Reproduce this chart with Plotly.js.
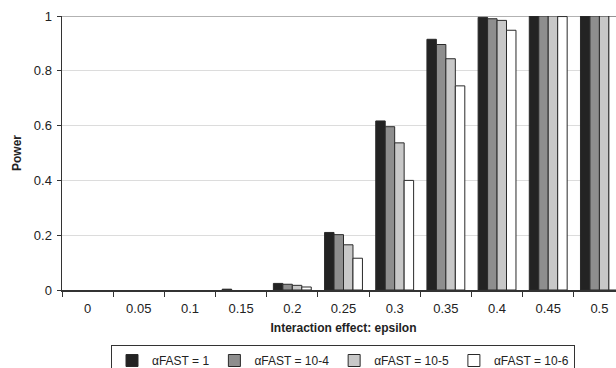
<!DOCTYPE html>
<html>
<head>
<meta charset="utf-8">
<script src="https://cdn.plot.ly/plotly-3.0.1.min.js"></script>
<style>html,body{margin:0;padding:0;background:#fff;overflow:hidden;width:616px;height:368px;}#chart{width:625px;height:392px;}</style>
</head>
<body>
<div id="chart"></div>
<script>
const categories = ["0","0.05","0.1","0.15","0.2","0.25","0.3","0.35","0.4","0.45","0.5"];
const seriesNames = ["\u03b1FAST = 1","\u03b1FAST = 10-4","\u03b1FAST = 10-5","\u03b1FAST = 10-6"];
const powerA1   = [0, 0, 0, 0.003, 0.024, 0.210, 0.617, 0.915, 0.995, 1.000, 1.000];
const powerA1e4 = [0, 0, 0, 0.000, 0.021, 0.202, 0.596, 0.896, 0.990, 1.000, 1.000];
const powerA1e5 = [0, 0, 0, 0.000, 0.017, 0.165, 0.537, 0.844, 0.984, 1.000, 1.000];
const powerA1e6 = [0, 0, 0, 0.000, 0.011, 0.116, 0.400, 0.745, 0.948, 0.998, 1.000];
const yTicks = [0, 0.2, 0.4, 0.6, 0.8, 1];
const yTickText = ["0","0.2","0.4","0.6","0.8","1"];

const colors = ["#232323", "#8e8e8e", "#c8c8c8", "#ffffff"];
const allVals = [powerA1, powerA1e4, powerA1e5, powerA1e6];

// zero-height bars are invisible in the reference, so they are left undrawn
const traces = allVals.map((v, i) => ({
  type: "bar",
  x: categories,
  y: v.map(d => d > 0 ? d : null),
  name: seriesNames[i],
  marker: {color: colors[i], line: {color: "#2a2a2a", width: 1}},
  hoverinfo: "skip"
}));

const font = "Arial";
const W = 625, H = 392;
const layout = {
  width: W, height: H,
  margin: {l: 62, r: 0, t: 16, b: H - 290},
  paper_bgcolor: "#fff", plot_bgcolor: "#fff",
  barmode: "group", bargap: 0.26, bargroupgap: 0,
  font: {family: font, size: 13, color: "#222"},
  showlegend: true,
  legend: {
    orientation: "h", x: (343 - 62) / (W - 62), xanchor: "center", y: (290 - 345) / 274, yanchor: "top",
    bordercolor: "#333", borderwidth: 1, bgcolor: "#fff",
    font: {family: font, size: 12, color: "#222"},
    itemwidth: 30, traceorder: "normal"
  },
  xaxis: {
    type: "category", range: [-0.5, 10.5],
    tickson: "boundaries", ticks: "outside", ticklen: 5, tickcolor: "#333",
    ticklabelstandoff: 6,
    showline: true, linecolor: "#333", linewidth: 1.5,
    showgrid: false, zeroline: false, fixedrange: true,
    tickfont: {family: font, size: 13, color: "#222"},
    title: {text: "<b>Interaction effect: epsilon</b>", font: {family: font, size: 12, color: "#222"}, standoff: 8}
  },
  yaxis: {
    range: [0, 1], tickvals: yTicks, ticktext: yTickText,
    ticks: "outside", ticklen: 4, tickcolor: "#333",
    ticklabelstandoff: 2,
    showline: true, linecolor: "#333", linewidth: 1.5,
    showgrid: true, gridcolor: "#dcdcdc", gridwidth: 1, zeroline: false,
    tickfont: {family: font, size: 13, color: "#222"},
    title: {text: "<b>Power</b>", font: {family: font, size: 12, color: "#222"}, standoff: 9},
    fixedrange: true
  },
  shapes: [{type: "line", xref: "paper", yref: "y", x0: 0, x1: 1, y0: 1, y1: 1, line: {color: "#999", width: 1.5}, layer: "below"}]
};

Plotly.newPlot("chart", traces, layout, {staticPlot: true, displayModeBar: false});
</script>
</body>
</html>
